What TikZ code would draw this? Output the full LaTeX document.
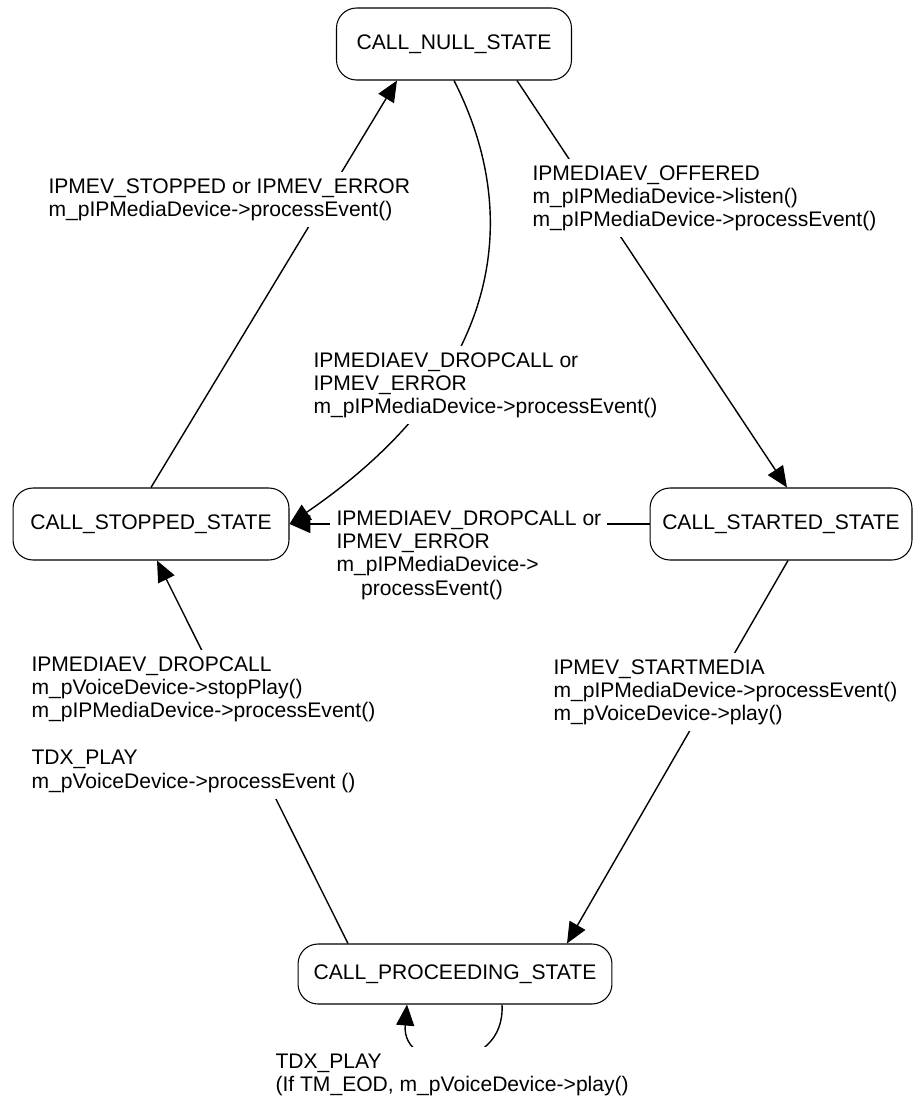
\documentclass[tikz,border=0pt]{standalone}
\usepackage{fontspec}
\setmainfont{Liberation Sans}
\usetikzlibrary{arrows.meta,calc}

\begin{document}
\begin{tikzpicture}[x=0.02cm, y=-0.02cm,
		font=\fontsize{12pt}{13.3pt}\selectfont,
		state/.style={draw, line width=0.6pt, rounded corners=0.4cm, inner sep=2pt},
		trans/.style={line width=0.8pt, -{Triangle[length=0.42cm, width=0.36cm]}},
		guard/.style={anchor=north west, align=left, fill=white, inner sep=3.5pt}]
	\useasboundingbox (0,0) rectangle (913,1100);

	% states
	\foreach \name / \x / \y / \w / \h / \txt in {%
		null/454/44/4.7/1.44/CALL\_NULL\_STATE,
		stopped/151/524/5.52/1.44/CALL\_STOPPED\_STATE,
		started/781/524/5.24/1.44/CALL\_STARTED\_STATE,
		proceeding/455/974/6.28/1.2/CALL\_PROCEEDING\_STATE%
	}{
		\node[state, minimum width=\w cm, minimum height=\h cm] (\name) at (\x,\y) {\txt};
	}

	% transitions
	\draw[trans] (stopped.north) -- ($(null.south)+(-57,0)$);
	\draw[trans] ($(null.south)+(63,0)$) -- ($(started.north)+(6,0)$);
	\draw[trans] (null.south) .. controls (525,220) and (500,380) .. (stopped.east);
	\draw[trans] (started.west) -- (stopped.east);
	\draw[trans] ($(started.south)+(7,0)$) -- ($(proceeding.north)+(112,0)$);
	\draw[trans] ($(proceeding.north)+(-107,0)$) -- ($(stopped.south)+(6,0)$);
	\draw[trans] ($(proceeding.south)+(47,0)$) .. controls +(4,70) and +(-6,70) .. ($(proceeding.south)+(-48,0)$);

	% events and actions (white boxes break the lines)
	\node[guard] (ev-stop) at (42,172) {IPMEV\_STOPPED or IPMEV\_ERROR\\m\_pIPMediaDevice->processEvent()};
	\node[guard] (ev-offer) at (526,159) {IPMEDIAEV\_OFFERED\\m\_pIPMediaDevice->listen()\\m\_pIPMediaDevice->processEvent()};
	\node[guard] (ev-drop) at (307,346) {IPMEDIAEV\_DROPCALL or\\IPMEV\_ERROR\\m\_pIPMediaDevice->processEvent()};
	\node[guard] (ev-drop2) at (330,504) {IPMEDIAEV\_DROPCALL or\\IPMEV\_ERROR\\m\_pIPMediaDevice->\\\hspace*{14pt}processEvent()};
	\node[guard] (ev-play) at (25,650) {IPMEDIAEV\_DROPCALL\\m\_pVoiceDevice->stopPlay()\\m\_pIPMediaDevice->processEvent()\\[13.3pt]TDX\_PLAY\\m\_pVoiceDevice->processEvent ()};
	\node[guard] (ev-media) at (547,653) {IPMEV\_STARTMEDIA\\m\_pIPMediaDevice->processEvent()\\m\_pVoiceDevice->play()};
	\node[guard] (ev-eod) at (269,1047) {TDX\_PLAY\\(If TM\_EOD, m\_pVoiceDevice->play()};

\end{tikzpicture}
\end{document}
